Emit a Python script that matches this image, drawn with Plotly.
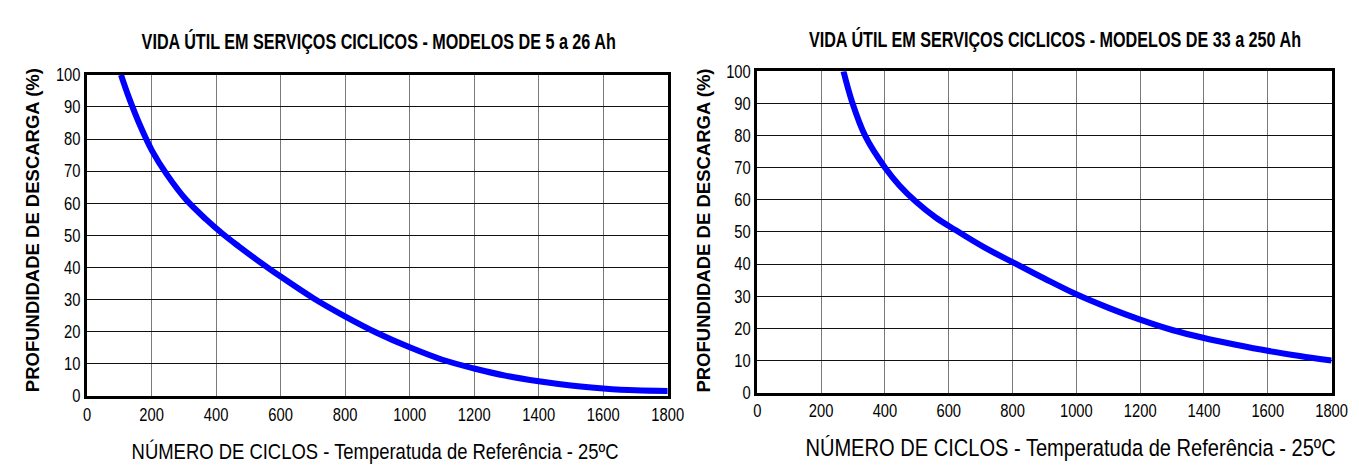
import plotly.graph_objects as go

# ---- data ----
left_title = "VIDA ÚTIL EM SERVIÇOS CICLICOS - MODELOS DE 5 a 26 Ah"
right_title = "VIDA ÚTIL EM SERVIÇOS CICLICOS - MODELOS DE 33 a 250 Ah"
x_title = "NÚMERO DE CICLOS - Temperatuda de Referência - 25ºC"
y_title = "PROFUNDIDADE DE DESCARGA (%)"

left_x = [105, 130, 166, 201, 247, 308, 369, 419, 470, 521, 600, 704, 798, 896,
          1002, 1099, 1200, 1300, 1400, 1500, 1600, 1700, 1800]
left_y = [100, 92.8, 83.8, 76.4, 69, 61, 55, 50.6, 46.6, 42.8, 37.2, 30.3, 24.9, 19.8,
          15.1, 11.4, 8.6, 6.3, 4.6, 3.3, 2.4, 1.8, 1.6]

right_x = [270, 297.5, 338.5, 401, 446, 497.5, 559, 621, 713, 800, 898, 1000,
           1103, 1200, 1303, 1400, 1500, 1600, 1700, 1800]
right_y = [100, 90.3, 79.8, 69.9, 64.4, 59.4, 54.5, 50.6, 45.1, 40.6, 35.6, 30.6,
           26.3, 22.7, 19.4, 17.0, 14.9, 13.0, 11.4, 10.0]

x_ticks = [0, 200, 400, 600, 800, 1000, 1200, 1400, 1600, 1800]
y_ticks = [0, 10, 20, 30, 40, 50, 60, 70, 80, 90, 100]

W, H = 1359, 468
FONT = "Liberation Sans, Arial, sans-serif"

fig = go.Figure()
fig.add_trace(go.Scatter(x=left_x, y=left_y, mode="lines", line=dict(color="#0000FF", width=6, shape="spline"),
                         xaxis="x", yaxis="y", showlegend=False, hoverinfo="skip"))
fig.add_trace(go.Scatter(x=right_x, y=right_y, mode="lines", line=dict(color="#0000FF", width=6, shape="spline"),
                         xaxis="x2", yaxis="y2", showlegend=False, hoverinfo="skip"))

def px_dom(a, b, total):
    return [a / total, b / total]

def py_dom(top, bottom):
    return [(H - bottom) / H, (H - top) / H]

xax = dict(range=[0, 1800], tickvals=x_ticks, showgrid=True, gridcolor="#7a7a7a", gridwidth=1,
           showline=True, linecolor="black", linewidth=3, mirror=True, zeroline=False,
           ticks="", tickfont=dict(family=FONT, size=18, color="black"), fixedrange=True)
yax = dict(range=[0, 100], tickvals=y_ticks, showgrid=True, gridcolor="#111111", gridwidth=1,
           showline=True, linecolor="black", linewidth=3, mirror=True, zeroline=False,
           ticks="", tickfont=dict(family=FONT, size=18, color="black"), fixedrange=True)

fig.update_layout(
    width=W, height=H, margin=dict(l=0, r=0, t=0, b=0),
    paper_bgcolor="white", plot_bgcolor="white",
    xaxis=dict(xax, domain=px_dom(75.5, 667, W), anchor="y"),
    yaxis=dict(yax, domain=py_dom(59.3, 395), anchor="x"),
    xaxis2=dict(xax, domain=px_dom(758.3, 1343.3, W), anchor="y2"),
    yaxis2=dict(yax, domain=py_dom(55.7, 391.3), anchor="x2"),
)

def ann(text, xpx, ypx, font, angle=0):
    fig.add_annotation(text=text, x=xpx / W, y=1 - ypx / H, xref="paper", yref="paper",
                       showarrow=False, xanchor="center", yanchor="middle", textangle=angle,
                       font=font)

title_font = dict(family=FONT, size=22, color="black", weight="bold")
xt_font = dict(family=FONT, size=22.5, color="black")
xt_font_r = dict(family=FONT, size=24.5, color="black")
yt_font = dict(family=FONT, size=18.5, color="black", weight="bold")

ann(left_title, 372, 25, title_font)
ann(right_title, 1062, 22, title_font)
ann(x_title, 369, 453, xt_font)
ann(x_title, 1077, 449, xt_font_r)
ann(y_title, 20, 222, yt_font, -90)
ann(y_title, 703, 222, yt_font, -90)

# Condense the narrow-font texts horizontally (the reference uses an Arial Narrow style face)
post = """
var gd = document.getElementById('{plot_id}');
function squeeze(t, s) {
  var X = parseFloat(t.getAttribute('x') || '0');
  var tr = t.getAttribute('transform') || '';
  t.setAttribute('transform', tr + ' translate(' + X + ',0) scale(' + s + ',1) translate(' + (-X) + ',0)');
}
gd.querySelectorAll('g.xtick > text, g.ytick > text, g.x2tick > text, g.y2tick > text').forEach(function (t) { squeeze(t, 0.82); });
gd.querySelectorAll('text.annotation-text').forEach(function (t) {
  var s = t.textContent || '';
  if (s.indexOf('VIDA') === 0) squeeze(t, 0.735);
  else if (s.indexOf('N\\u00daMERO') === 0 || s.indexOf('NÚMERO') === 0) squeeze(t, 0.82);
});
"""

fig.write_html("out.html", post_script=post)
